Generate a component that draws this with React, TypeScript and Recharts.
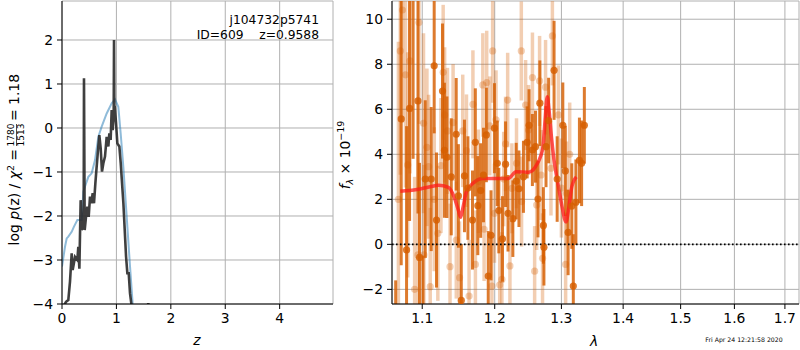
import React from "react";
import {
  CartesianGrid,
  ComposedChart,
  ErrorBar,
  Line,
  ReferenceLine,
  Scatter,
  XAxis,
  YAxis,
} from "recharts";

// left panel: log p(z)
const zTicks = [0, 1, 2, 3, 4];
const pTicks = [-4, -3, -2, -1, 0, 1, 2];

const zFit = [
  0.0, 0.024, 0.074, 0.116, 0.147, 0.178, 0.196, 0.239, 0.282, 0.3, 0.319, 0.343, 0.361, 0.38,
  0.398, 0.404, 0.417, 0.441, 0.466, 0.49, 0.515, 0.539, 0.564, 0.588, 0.613, 0.637, 0.662,
  0.686, 0.711, 0.735, 0.76, 0.79, 0.821, 0.852, 0.87, 0.894, 0.913, 0.931, 0.95, 0.956, 0.962,
  0.968, 0.993, 1.017, 1.054, 1.079, 1.128, 1.177, 1.201, 1.226, 1.25, 1.281, 1.32, 1.4, 1.5,
  1.56, 1.585, 1.61, 1.7, 2.0,
];
const logpFit = [
  -4.6, -4.06, -3.95, -3.91, -3.49, -2.85, -3.23, -2.93, -3.0, -2.7, -3.2, -1.64, -2.32, -2.24,
  -2.3, 1.13, -2.32, -2.02, -1.79, -2.02, -1.56, -1.71, -1.48, -1.71, -1.26, -0.88, -0.5, -0.16,
  -0.46, -0.99, -0.8, -0.65, -0.2, -0.42, -0.12, -0.27, 0.41, -0.05, 0.3, 2.0, 0.5, 0.49, 0.11,
  -0.35, -0.42, -0.8, -1.71, -2.92, -3.3, -3.3, -3.76, -4.06, -4.8, -5.5, -5.0, -4.3, -3.98,
  -4.3, -5.5, -6.0,
];

const zPrior = [
  0.0, 0.055, 0.086, 0.116, 0.178, 0.22, 0.282, 0.362, 0.392, 0.423, 0.484, 0.545, 0.607, 0.668,
  0.729, 0.821, 0.913, 0.974, 1.035, 1.078, 1.127, 1.189, 1.25, 1.299, 1.35, 1.45,
];
const logpPrior = [
  -3.15, -2.7, -2.51, -2.47, -2.36, -2.24, -2.09, -2.09, -1.45, -1.33, -1.11, -1.03, -0.73,
  -0.2, 0.03, 0.33, 0.56, 0.65, 0.48, -0.12, -0.88, -2.02, -3.15, -4.0, -4.9, -6.5,
];

// right panel: spectrum
const lamTicks = [1.1, 1.2, 1.3, 1.4, 1.5, 1.6, 1.7];
const fluxTicks = [-2, 0, 2, 4, 6, 8, 10];

const lamDark = [
  1.0655, 1.0726, 1.0795, 1.0834, 1.088, 1.0944, 1.0964, 1.101, 1.104, 1.1119, 1.1159, 1.119,
  1.1271, 1.1297, 1.1331, 1.139, 1.1458, 1.1488, 1.1528, 1.1572, 1.162, 1.1684, 1.1724, 1.1759,
  1.1799, 1.1839, 1.188, 1.1907, 1.1947, 1.1996, 1.2037, 1.2059, 1.2112, 1.2157, 1.2193,
  1.2264, 1.2313, 1.2354, 1.2421, 1.2476, 1.2505, 1.2555, 1.2602, 1.264, 1.2668, 1.2722, 1.273,
  1.2762, 1.2802, 1.2886, 1.2934, 1.3022, 1.3061, 1.3105, 1.3163, 1.3187, 1.3228, 1.3284,
  1.3319, 1.3363,
];
const fluxDark = [
  -4.5, 5.57, -0.25, 6.04, 11.5, 6.37, -0.58, -4.0, 2.9, 2.9, 7.93, 1.08, 6.81, 4.18, 3.87, 3.0,
  4.89, 2.15, -2.49, 3.04, 2.5, 1.08, 4.53, 1.72, 2.39, 3.08, 4.86, -1.41, 0.4, 5.16, 3.6, 1.5,
  0.24, 3.56, 1.38, 1.14, 2.81, 2.47, 3.0, 4.53, 5.29, 4.19, 4.34, 2.01, 6.27, 0.84, -0.13, 4.34,
  5.5, 7.73, 2.9, 5.29, 3.26, 0.53, 1.7, -1.85, 1.87, 3.73, 3.6, 5.29,
];
const errDark = [
  2.9, 6.5, 5.5, 5.0, 7.7, 5.0, 4.2, 3.5, 3.5, 3.2, 3.0, 3.0, 3.0, 3.0, 2.7, 2.6, 2.5, 2.3, 2.5,
  2.5, 2.3, 2.2, 2.4, 2.2, 2.1, 2.1, 2.1, 2.0, 2.0, 2.0, 1.9, 1.9, 1.9, 1.9, 1.7, 1.7, 1.7, 1.7,
  1.6, 1.6, 1.6, 1.6, 1.6, 1.7, 1.9, 1.7, 1.7, 1.8, 1.9, 2.2, 1.9, 1.9, 2.0, 1.9, 1.9, 2.3, 1.9,
  1.9, 1.9, 1.7,
];

const lamLight = [
  1.069, 1.0714, 1.0742, 1.0781, 1.081, 1.0839, 1.09, 1.0944, 1.0957, 1.1017, 1.1022, 1.1062,
  1.1085, 1.1106, 1.116, 1.1208, 1.125, 1.128, 1.13, 1.1338, 1.1373, 1.1415, 1.1459, 1.1504,
  1.1548, 1.16, 1.1636, 1.169, 1.1725, 1.1768, 1.183, 1.1848, 1.1885, 1.1929, 1.196, 1.197,
  1.1996, 1.2019, 1.2072, 1.2104, 1.213, 1.2157, 1.2188, 1.2221, 1.225, 1.2318, 1.2389, 1.2393,
  1.2453, 1.2497, 1.2556, 1.2589, 1.262, 1.2664, 1.2687, 1.2709, 1.2755, 1.2838, 1.286, 1.2953,
  1.3, 1.3066, 1.308, 1.313,
];
const fluxLight = [
  2.0, 8.59, 10.41, 7.53, 3.53, 8.15, -2.0, -0.47, 9.85, 5.38, -0.47, 4.31, 3.45, -1.88, 2.0,
  0.49, 3.5, 7.64, 5.75, 5.04, -0.99, 5.41, 0.19, -1.48, 5.04, 4.16, -2.3, 6.22, -0.89, 2.8,
  7.08, 0.67, 7.19, 5.26, -1.85, 8.59, 1.38, 5.53, -1.8, -1.56, 2.9, 4.46, 6.41, -0.96, 2.49,
  3.6, 8.59, 1.9, 6.19, 5.08, 7.41, -1.19, 1.75, 7.26, 3.08, -0.62, 6.98, 3.38, 9.26, 5.75, 2.5,
  -0.89, 2.27, 4.0,
];
const errLight = [
  7.0, 5.5, 5.0, 5.0, 5.0, 5.0, 5.0, 4.5, 4.5, 4.0, 4.0, 3.5, 3.2, 3.5, 3.2, 3.0, 3.0, 3.0, 3.0,
  2.8, 2.8, 2.6, 2.6, 2.5, 2.5, 2.5, 2.5, 2.4, 2.4, 2.3, 2.3, 2.3, 2.3, 2.2, 2.2, 2.3, 2.2, 2.2,
  2.1, 2.1, 2.1, 2.1, 2.1, 2.0, 2.0, 2.0, 2.2, 2.0, 2.0, 2.0, 2.0, 2.0, 2.0, 2.0, 2.0, 2.0, 2.1,
  2.1, 2.2, 2.2, 2.2, 2.3, 2.3, 2.3,
];

const lamModel = [
  1.0714, 1.093, 1.1106, 1.1216, 1.1351, 1.1427, 1.1486, 1.1518, 1.1554, 1.16, 1.169, 1.1839,
  1.2019, 1.22, 1.2312, 1.2497, 1.2564, 1.2632, 1.2678, 1.2716, 1.2748, 1.2781, 1.2808, 1.284,
  1.2885, 1.2955, 1.301, 1.3072, 1.3117, 1.3164, 1.3235,
];
const fluxModel = [
  2.36, 2.44, 2.56, 2.62, 2.53, 2.12, 1.53, 1.2, 1.67, 2.34, 2.71, 2.93, 2.93, 2.93, 3.23, 3.2,
  3.3, 3.6, 3.9, 4.34, 5.53, 6.56, 5.97, 4.93, 3.75, 2.56, 1.67, 1.0, 1.67, 2.56, 3.0,
];

const FLUX_MIN = -2.65;
const FLUX_MAX = 10.81;

const fitData = zFit.map((z, i) => ({ z, p: logpFit[i] }));
const priorData = zPrior.map((z, i) => ({ z, p: logpPrior[i] }));
const darkData = lamDark.map((lam, i) => ({ lam, f: fluxDark[i], e: errDark[i] }));
const lightData = lamLight.map((lam, i) => ({ lam, f: fluxLight[i], e: errLight[i] }));
const modelData = lamModel.map((lam, i) => ({ lam, f: fluxModel[i] }));

// error bars are cut at the frame, the same way matplotlib clips them
const clippedErr = (d: { f: number; e: number }) => [
  Math.min(d.e, d.f - FLUX_MIN),
  Math.min(d.e, FLUX_MAX - d.f),
];

const FONT = "DejaVu Sans, sans-serif";
const tickStyle = { fill: "#000", fontSize: 13.9, fontFamily: FONT };
const minus = (v: number, d = 0) => (v < 0 ? "\u2212" + Math.abs(v).toFixed(d) : v.toFixed(d));
const DARK = "rgba(213,94,0,0.82)";
const LIGHT = "rgba(213,94,0,0.3)";

function Dot(props: any) {
  const { cx, cy, fill } = props;
  if (cx == null || cy == null) return null;
  return <circle cx={cx} cy={cy} r={3.6} fill={fill} />;
}

function Labels() {
  return (
    <svg
      width={800}
      height={350}
      style={{ position: "absolute", left: 0, top: 0, pointerEvents: "none" }}
      fontFamily={FONT}
      fill="#000"
    >
      <text x={319} y={24} fontSize={12.3} textAnchor="end">j104732p5741</text>
      <text x={319} y={39} fontSize={12.3} textAnchor="end" xmlSpace="preserve">
        {"ID=609    z=0.9588"}
      </text>
      <g transform="translate(19,150) rotate(-90)" fontSize={13.9}>
        <text x={1} textAnchor="end">
          log <tspan fontStyle="italic">p</tspan>(z) / <tspan fontStyle="italic">χ</tspan>
          <tspan dy={-5} fontSize={9.5}>2</tspan>
          <tspan dy={5}> =</tspan>
        </text>
        <text x={15} y={-5} fontSize={9} textAnchor="middle">1780</text>
        <line x1={4} x2={26} y1={-2.5} y2={-2.5} stroke="#000" strokeWidth={0.7} />
        <text x={15} y={5} fontSize={9} textAnchor="middle">1513</text>
        <text x={29}>= 1.18</text>
      </g>
      <text x={197} y={345} fontSize={13.9} fontStyle="italic" textAnchor="middle">z</text>
      <g transform="translate(350,155) rotate(-90)" fontSize={13.9}>
        <text textAnchor="middle">
          <tspan fontStyle="italic">f</tspan>
          <tspan dy={3} fontSize={9.5} fontStyle="italic">λ</tspan>
          <tspan dy={-3}> × 10</tspan>
          <tspan dy={-6} fontSize={9.5}>−19</tspan>
        </text>
      </g>
      <text x={594} y={346} fontSize={13.9} fontStyle="italic" textAnchor="middle">λ</text>
      <text x={744} y={342} fontSize={6.2} textAnchor="middle">Fri Apr 24 12:21:58 2020</text>
    </svg>
  );
}

export default function App() {
  return (
    <div style={{ position: "absolute", left: 0, top: 0, width: 800, height: 350, background: "#fff" }}>
      <div style={{ position: "absolute", left: 0, top: 0 }}>
        <ComposedChart width={340} height={350} margin={{ top: 1, right: 7, bottom: 0, left: 0 }}>
          <CartesianGrid stroke="#b0b0b0" strokeWidth={1} />
          <XAxis
            dataKey="z"
            type="number"
            domain={[0, 4.98]}
            ticks={zTicks}
            allowDataOverflow
            height={46}
            tick={tickStyle}
            tickSize={5}
            tickMargin={4}
            tickLine={{ stroke: "#000" }}
            axisLine={{ stroke: "#000" }}
            tickFormatter={(v) => minus(v)}
          />
          <XAxis xAxisId="top" orientation="top" type="number" domain={[0, 4.98]} height={0}
            tick={false} tickLine={false} axisLine={{ stroke: "#000" }} />
          <YAxis
            dataKey="p"
            type="number"
            domain={[-4, 2.886]}
            ticks={pTicks}
            allowDataOverflow
            width={62}
            tick={tickStyle}
            tickSize={5}
            tickMargin={4}
            tickLine={{ stroke: "#000" }}
            axisLine={{ stroke: "#000" }}
            tickFormatter={(v) => minus(v)}
          />
          <YAxis yAxisId="right" orientation="right" type="number" domain={[-4, 2.886]} width={0}
            tick={false} tickLine={false} axisLine={{ stroke: "#000" }} />
          <Line data={priorData} dataKey="p" type="linear" dot={false} stroke="#1f77b4"
            strokeOpacity={0.5} strokeWidth={2} isAnimationActive={false} />
          <Line data={fitData} dataKey="p" type="linear" dot={false} stroke="#2a2a2a"
            strokeOpacity={0.9} strokeWidth={2.6} isAnimationActive={false} />
        </ComposedChart>
      </div>
      <div style={{ position: "absolute", left: 340, top: 0 }}>
        <ComposedChart width={460} height={350} margin={{ top: 1, right: 1, bottom: 0, left: 0 }}>
          <CartesianGrid stroke="#b0b0b0" strokeWidth={1} />
          <XAxis
            dataKey="lam"
            type="number"
            scale="log"
            domain={[1.0608, 1.729]}
            ticks={lamTicks}
            allowDataOverflow
            height={46}
            tick={tickStyle}
            tickSize={5}
            tickMargin={4}
            tickLine={{ stroke: "#000" }}
            axisLine={{ stroke: "#000" }}
            tickFormatter={(v) => minus(v, 1)}
          />
          <XAxis xAxisId="top" orientation="top" type="number" scale="log" domain={[1.0608, 1.729]}
            height={0} tick={false} tickLine={false} axisLine={{ stroke: "#000" }} />
          <YAxis
            dataKey="f"
            type="number"
            domain={[FLUX_MIN, FLUX_MAX]}
            ticks={fluxTicks}
            allowDataOverflow
            width={52}
            tick={tickStyle}
            tickSize={5}
            tickMargin={4}
            tickLine={{ stroke: "#000" }}
            axisLine={{ stroke: "#000" }}
            tickFormatter={(v) => minus(v)}
          />
          <YAxis yAxisId="right" orientation="right" type="number" domain={[FLUX_MIN, FLUX_MAX]} width={0}
            tick={false} tickLine={false} axisLine={{ stroke: "#000" }} />
          <Scatter data={lightData} fill={LIGHT} shape={<Dot />} isAnimationActive={false}>
            <ErrorBar dataKey={clippedErr} direction="y" width={0} stroke={LIGHT} strokeWidth={3.5} />
          </Scatter>
          <Scatter data={darkData} fill={DARK} shape={<Dot />} isAnimationActive={false}>
            <ErrorBar dataKey={clippedErr} direction="y" width={0} stroke={DARK} strokeWidth={3} />
          </Scatter>
          <Line data={modelData} dataKey="f" type="monotone" dot={false} stroke="#ff1a1a"
            strokeOpacity={0.75} strokeWidth={3.5} isAnimationActive={false} />
          <ReferenceLine y={0} stroke="#000" strokeWidth={1.6} strokeDasharray="1.6 2.4" />
        </ComposedChart>
      </div>
      <Labels />
    </div>
  );
}
